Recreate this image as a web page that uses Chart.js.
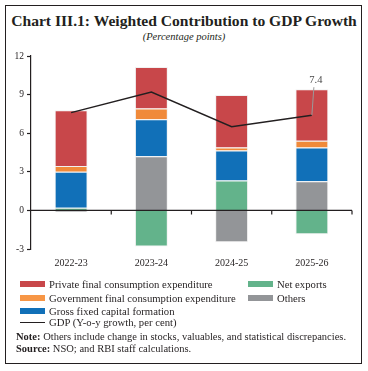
<!DOCTYPE html>
<html lang="en">
<head>
<meta charset="UTF-8">
<title>Weighted Contribution to GDP Growth</title>
<script src="https://cdn.jsdelivr.net/npm/chart.js@4.4.1/dist/chart.umd.min.js"></script>
<style>
  body { margin: 0; width: 368px; height: 371px; background: #fff; font-family: 'Liberation Serif', serif; color: #231f20; }
  #frame { position: absolute; left: 5px; top: 5px; width: 355px; height: 357px; border: 1.5px solid #231f20; }
  #title { position: absolute; left: 0; width: 368px; top: 12px; text-align: center; font-weight: bold; font-size: 15.6px; }
  #sub { position: absolute; left: 0; width: 368px; top: 31px; text-align: center; font-style: italic; font-size: 10.5px; }
  #wrap { position: absolute; left: 0; top: 40px; width: 368px; height: 240px; }
  .leg { position: absolute; font-size: 10.7px; line-height: 12px; white-space: nowrap; }
  .sw { position: absolute; width: 25px; height: 6px; }
  .ln { position: absolute; width: 25px; height: 0; border-top: 1.2px solid #231f20; }
  .note { position: absolute; left: 16px; font-size: 10.5px; white-space: nowrap; }
</style>
</head>
<body>
<div id="frame"></div>
<div id="title">Chart III.1: Weighted Contribution to GDP Growth</div>
<div id="sub">(Percentage points)</div>
<div id="wrap"><canvas id="chart"></canvas></div>
<div id="legend"></div>
<div class="note" style="top:331px"><b>Note:</b> Others include change in stocks, valuables, and statistical discrepancies.</div>
<div class="note" style="top:343px"><b>Source:</b> NSO; and RBI staff calculations.</div>

<script>
// data
var years = ['2022-23', '2023-24', '2024-25', '2025-26'];
var privateCons = [4.33, 3.23, 4.07, 4.0];
var govCons = [0.45, 0.84, 0.23, 0.53];
var gfcf = [2.8, 2.88, 2.34, 2.62];
var netExports = [0.2, -2.8, 2.32, -1.85];
var others = [-0.15, 4.2, -2.47, 2.27];
var gdp = [7.6, 9.2, 6.5, 7.4];
var yTicks = [-3, 0, 3, 6, 9, 12];

var red = '#c8474a', orange = '#f08a3a', blue = '#1170b8', green = '#63b38b', grey = '#939598';

// legend, two columns like the original
var legendItems = [
    { label: 'Private final consumption expenditure', color: red, x: 20, y: 278 },
    { label: 'Net exports', color: green, x: 248, y: 278 },
    { label: 'Government final consumption expenditure', color: '#f79646', x: 20, y: 292 },
    { label: 'Others', color: grey, x: 248, y: 292 },
    { label: 'Gross fixed capital formation', color: blue, x: 20, y: 305 },
    { label: 'GDP (Y-o-y growth, per cent)', color: null, x: 20, y: 316 }
];
var legend = document.getElementById('legend');
legendItems.forEach(function (it) {
    var mark = document.createElement('div');
    if (it.color) {
        mark.className = 'sw';
        mark.style.background = it.color;
        mark.style.top = (it.y + 3) + 'px';
    } else {
        mark.className = 'ln';
        mark.style.top = (it.y + 6) + 'px';
    }
    mark.style.left = it.x + 'px';
    legend.appendChild(mark);
    var t = document.createElement('div');
    t.className = 'leg';
    t.textContent = it.label;
    t.style.left = (it.x + 29) + 'px';
    t.style.top = it.y + 'px';
    legend.appendChild(t);
});

// zero line with category tick marks
var zeroLine = {
    id: 'zeroLine',
    afterDatasetsDraw: function (chart) {
        var ctx = chart.ctx, a = chart.chartArea, x = chart.scales.x;
        var y0 = chart.scales.y.getPixelForValue(0);
        ctx.save();
        ctx.strokeStyle = '#231f20';
        ctx.lineWidth = 1.2;
        ctx.beginPath();
        ctx.moveTo(a.left, y0);
        ctx.lineTo(a.right, y0);
        for (var i = 0; i < years.length; i++) {
            var bx = (x.getPixelForValue(i) + (i < years.length - 1 ? x.getPixelForValue(i + 1) : 2 * x.getPixelForValue(i) - x.getPixelForValue(i - 1))) / 2;
            ctx.moveTo(bx, y0);
            ctx.lineTo(bx, y0 + 4);
        }
        ctx.stroke();
        // callout for last GDP value
        var meta = chart.getDatasetMeta(5);
        var p = meta.data[years.length - 1];
        ctx.strokeStyle = '#9a9a9a';
        ctx.lineWidth = 1;
        ctx.beginPath();
        ctx.moveTo(p.x, p.y);
        ctx.lineTo(p.x + 2, p.y - 28);
        ctx.stroke();
        ctx.fillStyle = '#4a4a4a';
        ctx.font = "10.5px 'Liberation Serif', serif";
        ctx.textAlign = 'center';
        ctx.textBaseline = 'middle';
        ctx.fillText(gdp[years.length - 1].toFixed(1), p.x + 4, p.y - 35);
        ctx.restore();
    }
};

Chart.defaults.font.family = "'Liberation Serif', serif";
Chart.defaults.color = '#231f20';

function barSet(label, data, color) {
    return {
        type: 'bar', label: label, data: data, backgroundColor: color,
        borderColor: 'rgba(235,235,235,0.7)', borderWidth: 1,
        stack: 'g', order: 1, categoryPercentage: 1, barPercentage: 0.41
    };
}

new Chart(document.getElementById('chart'), {
    type: 'bar',
    data: {
        labels: years,
        datasets: [
            barSet('Net exports', netExports, green),
            barSet('Others', others, grey),
            barSet('Gross fixed capital formation', gfcf, blue),
            barSet('Government final consumption expenditure', govCons, orange),
            barSet('Private final consumption expenditure', privateCons, red),
            {
                type: 'line', label: 'GDP (Y-o-y growth, per cent)', data: gdp,
                borderColor: '#231f20', borderWidth: 1.5, pointRadius: 0,
                tension: 0, stack: 'line', order: 0
            }
        ]
    },
    options: {
        responsive: true,
        maintainAspectRatio: false,
        animation: false,
        layout: { padding: { top: 16, right: 16, bottom: 3, left: 0 } },
        plugins: { legend: { display: false }, tooltip: { enabled: false } },
        scales: {
            x: {
                stacked: true,
                grid: { display: false, drawTicks: false },
                border: { display: false },
                ticks: { padding: 8, font: { size: 10 } }
            },
            y: {
                stacked: true,
                min: -3, max: 12,
                afterBuildTicks: function (s) { s.ticks = yTicks.map(function (v) { return { value: v }; }); },
                afterFit: function (s) { s.width = 31; },
                grid: { drawOnChartArea: false, tickLength: 4, tickColor: '#231f20', tickWidth: 1.2 },
                border: { display: true, color: '#231f20', width: 1.2 },
                ticks: { padding: 3, font: { size: 9.5 } }
            }
        }
    },
    plugins: [zeroLine]
});
</script>
</body>
</html>
